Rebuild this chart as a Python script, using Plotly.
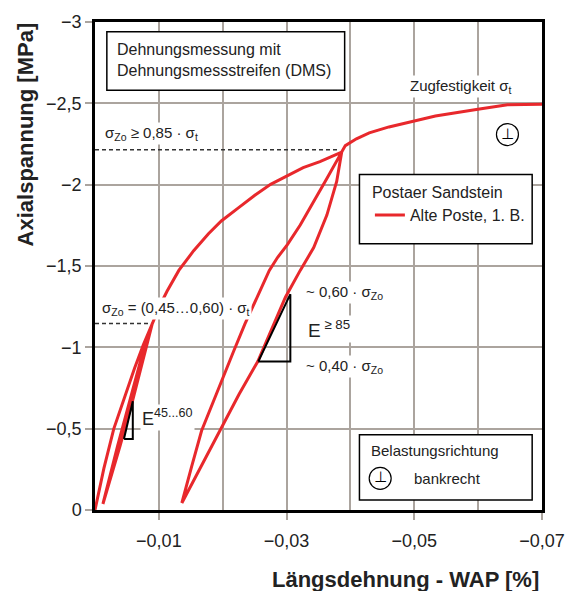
import plotly.graph_objects as go

# Stress-strain record, Postaer Sandstein (Alte Poste, 1. B.), strain in %, stress in MPa
load1_strain = [0.0, -0.00139, -0.00294, -0.00448, -0.00618, -0.00757, -0.00896]
load1_stress = [0.0, -0.256, -0.499, -0.682, -0.870, -1.016, -1.144]

unload1_strain = [-0.00711, -0.00541, -0.00355, -0.00124]
unload1_stress = [-0.913, -0.669, -0.396, -0.037]

reload1_strain = [-0.00394, -0.00587, -0.00749, -0.00896, -0.01004, -0.01128, -0.01313,
                  -0.01545, -0.01777, -0.01978, -0.02240, -0.02503, -0.02750, -0.03013,
                  -0.03260, -0.03523, -0.03863]
reload1_stress = [-0.396, -0.669, -0.913, -1.144, -1.247, -1.345, -1.473,
                  -1.594, -1.698, -1.777, -1.856, -1.935, -2.002, -2.057,
                  -2.105, -2.142, -2.200]

unload2_strain = [-0.03631, -0.03425, -0.03214, -0.03013, -0.02858, -0.02730, -0.02534,
                  -0.02348, -0.02163, -0.01978, -0.01823, -0.01669, -0.01514, -0.01360]
unload2_stress = [-2.038, -1.899, -1.752, -1.631, -1.552, -1.473, -1.308,
                  -1.144, -0.968, -0.791, -0.639, -0.487, -0.268, -0.043]

reload2_strain = [-0.01669, -0.01978, -0.02256, -0.02549, -0.02781, -0.02982, -0.03214,
                  -0.03425, -0.03631, -0.03785, -0.03863]
reload2_stress = [-0.274, -0.505, -0.712, -0.913, -1.120, -1.308, -1.473,
                  -1.613, -1.813, -2.020, -2.200]

failure_strain = [-0.03920, -0.04094, -0.04295, -0.04604, -0.04991, -0.05331, -0.05996,
                  -0.06460, -0.07000]
failure_stress = [-2.240, -2.282, -2.318, -2.355, -2.391, -2.422, -2.464,
                  -2.491, -2.495]

# Reference levels (dashed) and tangent-modulus triangles
level_hi_strain = [0.0, -0.0379]
level_hi_stress = [-2.215, -2.215]
level_lo_strain = [0.0, -0.00896]
level_lo_stress = [-1.146, -1.146]

tri1_strain = [-0.00453, -0.00592, -0.00592, -0.00453]
tri1_stress = [-0.436, -0.669, -0.436, -0.436]
tri2_strain = [-0.02557, -0.03059, -0.03059, -0.02557]
tri2_stress = [-0.913, -1.327, -0.913, -0.913]

x_ticks = [-0.01, -0.03, -0.05, -0.07]
x_ticktext = ["−0,01", "−0,03", "−0,05", "−0,07"]
y_ticks = [0, -0.5, -1, -1.5, -2, -2.5, -3]
y_ticktext = ["0", "−0,5", "−1", "−1,5", "−2", "−2,5", "−3"]

strain = load1_strain + unload1_strain + reload1_strain + unload2_strain + reload2_strain + failure_strain
stress = load1_stress + unload1_stress + reload1_stress + unload2_stress + reload2_stress + failure_stress

FONT = "Liberation Sans, Arial, sans-serif"
RED = "#e8282c"
GRID = "#aba49e"

fig = go.Figure()

for xs, ys in [(level_hi_strain, level_hi_stress), (level_lo_strain, level_lo_stress)]:
    fig.add_trace(go.Scatter(x=xs, y=ys, mode="lines", showlegend=False, hoverinfo="skip",
                             line=dict(color="#333333", width=1.5, dash="4px,3px")))

fig.add_trace(go.Scatter(x=strain, y=stress, mode="lines", name="Alte Poste, 1. B.",
                         line=dict(color=RED, width=3)))

for xs, ys in [(tri1_strain, tri1_stress), (tri2_strain, tri2_stress)]:
    fig.add_trace(go.Scatter(x=xs, y=ys, mode="lines", showlegend=False, hoverinfo="skip",
                             line=dict(color="black", width=2)))

box = dict(type="rect", xref="paper", yref="paper", layer="above",
           line=dict(color="black", width=1.5), fillcolor="white")
fig.add_shape(**box, x0=0.0265, x1=0.5585, y0=0.860, y1=0.980)
fig.add_shape(**box, x0=0.5916, x1=0.978, y0=0.5456, y1=0.6876)
fig.add_shape(**box, x0=0.5916, x1=0.978, y0=0.0203, y1=0.1542)

# circled "perpendicular" symbols
for cx, cy in [(0.9227, 0.7694), (0.638, 0.0649)]:
    fig.add_shape(type="circle", xref="paper", yref="paper", layer="above",
                  xsizemode="pixel", ysizemode="pixel", xanchor=cx, yanchor=cy,
                  x0=-11, x1=11, y0=-11, y1=11, line=dict(color="black", width=1.2))
    fig.add_annotation(x=cx, y=cy, xref="paper", yref="paper", text="⊥", showarrow=False,
                       font=dict(family="DejaVu Sans", size=15, color="black"),
                       xanchor="center", yanchor="middle", yshift=1)

ann = dict(showarrow=False, xanchor="left", yanchor="middle",
           font=dict(family=FONT, size=15, color="#222222"))
fig.add_annotation(showarrow=False, xanchor="left", yanchor="middle", xref="paper", yref="paper",
                   x=0.0442, y=0.922, align="left",
                   text="Dehnungsmessung mit<br>Dehnungsmessstreifen (DMS)",
                   font=dict(family=FONT, size=16, color="#222222"))
fig.add_annotation(**ann, xref="paper", yref="paper", x=0.6137, y=0.1217, text="Belastungsrichtung")
fig.add_annotation(**ann, xref="paper", yref="paper", x=0.7086, y=0.0649, text="bankrecht")

fig.add_annotation(**ann, x=-0.00124, y=-2.312, text="σ<sub>Zo</sub> ≥ 0,85 · σ<sub>t</sub>",
                   bgcolor="white")
fig.add_annotation(**ann, x=-0.00077, y=-1.241, text="σ<sub>Zo</sub> = (0,45…0,60) · σ<sub>t</sub>",
                   bgcolor="white")
fig.add_annotation(**ann, x=-0.04898, y=-2.604, text="Zugfestigkeit σ<sub>t</sub>", bgcolor="white")
fig.add_annotation(showarrow=False, xanchor="left", yanchor="middle", x=-0.00711, y=-0.566,
                   text="E<sup>45...60</sup>", bgcolor="white",
                   font=dict(family=FONT, size=18, color="#222222"))
fig.add_annotation(**ann, x=-0.03275, y=-1.339, text="~ 0,60 · σ<sub>Zo</sub>", bgcolor="white")
fig.add_annotation(showarrow=False, xanchor="left", yanchor="middle", x=-0.03306, y=-1.114,
                   text="E<sup> ≥ 85</sup>", bgcolor="white",
                   font=dict(family=FONT, size=19, color="#222222"))
fig.add_annotation(**ann, x=-0.03275, y=-0.882, text="~ 0,40 · σ<sub>Zo</sub>", bgcolor="white")

# axis titles
fig.add_annotation(xref="paper", yref="paper", x=-0.155, y=0.769, text="<b>Axialspannung [MPa]</b>",
                   textangle=-90, showarrow=False, xanchor="center", yanchor="middle",
                   font=dict(family=FONT, size=22, color="#222222"))
fig.add_annotation(xref="paper", yref="paper", x=0.998, y=-0.142, text="<b>Längsdehnung - WAP [%]</b>",
                   showarrow=False, xanchor="right", yanchor="middle",
                   font=dict(family=FONT, size=22, color="#222222"))

fig.update_layout(
    width=577, height=591,
    margin=dict(l=95, r=29, t=17, b=81),
    paper_bgcolor="white", plot_bgcolor="white",
    font=dict(family=FONT, size=16, color="#222222"),
    showlegend=True,
    legend=dict(x=0.615, y=0.682, xanchor="left", yanchor="top",
                bgcolor="rgba(0,0,0,0)", borderwidth=0,
                title=dict(text="Postaer Sandstein", font=dict(size=16)),
                font=dict(size=16)),
)

fig.update_xaxes(range=[0, -0.07], tickvals=x_ticks, ticktext=x_ticktext,
                 showgrid=True, gridcolor=GRID, gridwidth=1.5,
                 minor=dict(dtick=0.01, tick0=0, showgrid=True, gridcolor=GRID, gridwidth=1.5),
                 ticks="outside", ticklen=7, tickcolor=GRID, tickwidth=1.5,
                 ticklabelstandoff=6, tickfont=dict(size=18),
                 showline=True, linecolor="black", linewidth=2.5, mirror=True, zeroline=False)
fig.update_yaxes(range=[0, -3], tickvals=y_ticks, ticktext=y_ticktext,
                 showgrid=True, gridcolor=GRID, gridwidth=1.5,
                 ticks="outside", ticklen=7, tickcolor=GRID, tickwidth=1.5,
                 tickfont=dict(size=18),
                 showline=True, linecolor="black", linewidth=2.5, mirror=True, zeroline=False)

fig.write_html("out.html")
